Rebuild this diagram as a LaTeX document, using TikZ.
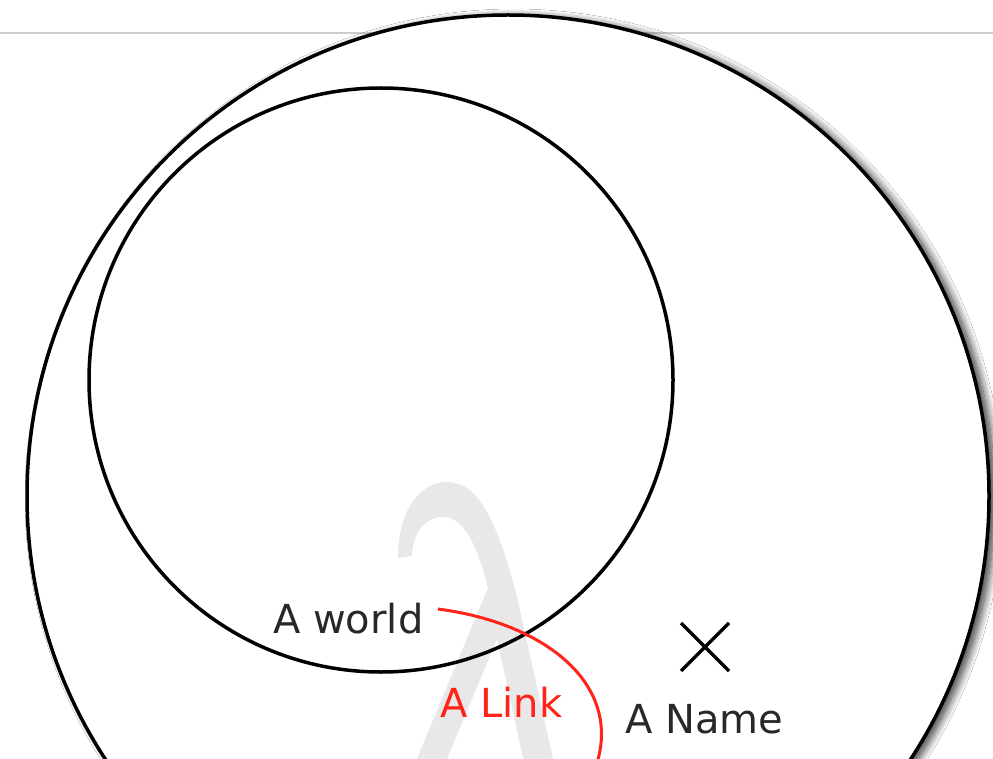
\documentclass[tikz,border=0pt]{standalone}
\usepackage{fontspec}
\setmainfont{DejaVu Sans}
\usetikzlibrary{shadows.blur}
\definecolor{lamgray}{RGB}{232,232,232}
\definecolor{rulegray}{RGB}{204,204,204}
\definecolor{txt}{RGB}{40,40,40}
\definecolor{linkred}{RGB}{255,35,25}
\tikzset{
  ring/.style={circle, draw=black, line width=3.5pt, inner sep=0pt},
  lbl/.style={font=\fontsize{40}{48}\selectfont, text=txt, inner sep=0pt, anchor=base west},
}
\begin{document}
\begin{tikzpicture}[x=1pt,y=-1pt]
\clip (0,0) rectangle (993,759);
\fill[white] (0,0) rectangle (993,759);
\coordinate (rl) at (0,33);
\coordinate (rr) at (993,33);
\draw[rulegray, line width=2pt] (rl) -- (rr);
\node[ring, fill=white, minimum size=962pt,
  blur shadow={shadow xshift=6pt, shadow yshift=-2pt, shadow blur radius=8pt, shadow blur steps=12, shadow opacity=80}]
  (outer) at (508,496) {};
% lambda watermark
\fill[lamgray] (398,558) .. controls (398,510) and (420,482) .. (447,482)
  .. controls (478,482) and (497,520) .. (517,597)
  -- (560,790) -- (530,790) -- (497,639) -- (434,790) -- (404,790) -- (488,588)
  .. controls (476,540) and (462,517) .. (443,517)
  .. controls (425,517) and (413,532) .. (412,556) -- cycle;
\node[ring, minimum size=584pt] (inner) at (381,380) {};
\node[lbl] (world) at (273,633) {A world};
\node[lbl, text=linkred] (link) at (440,717) {A Link};
\node[lbl] (name) at (625,733) {A Name};
\coordinate (ls) at (438,609);
\coordinate (le) at (585,790);
\draw[linkred, line width=3pt] (ls) .. controls (560,625) and (637,700) .. (le);
\coordinate (xa) at (681,623);
\coordinate (xb) at (729,671);
\coordinate (xc) at (729,623);
\coordinate (xd) at (681,671);
\draw[black, line width=3.5pt] (xa) -- (xb) (xc) -- (xd);
\end{tikzpicture}
\end{document}
